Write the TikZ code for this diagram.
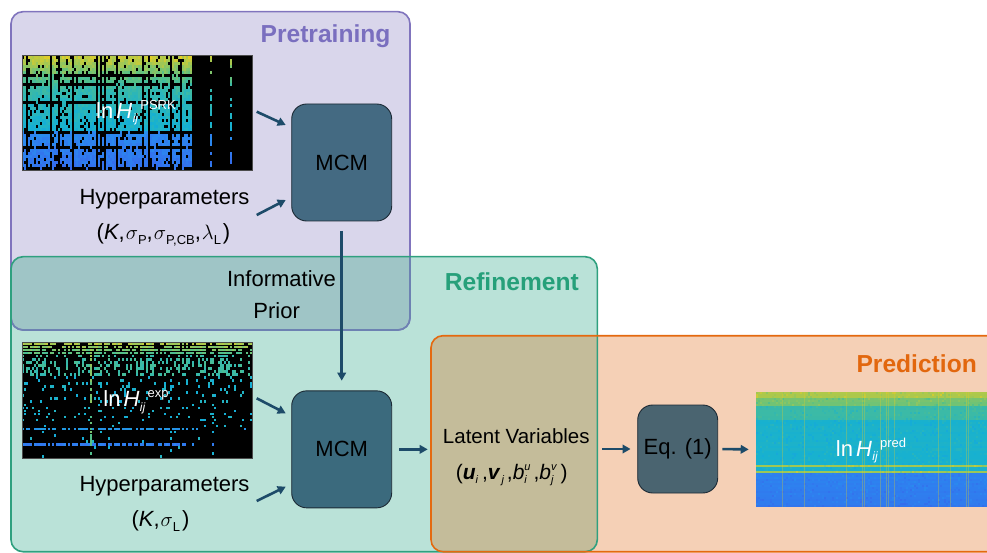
\documentclass[tikz,border=0pt]{standalone}
\usepackage{fontspec}
\setmainfont{Liberation Sans}
\usetikzlibrary{arrows.meta}
\definecolor{preFill}{HTML}{D9D6EB}
\definecolor{preLine}{HTML}{8074BD}
\definecolor{preTitle}{HTML}{7A6FBF}
\definecolor{refFill}{HTML}{BAE2D8}
\definecolor{refLine}{HTML}{2FA07F}
\definecolor{refTitle}{HTML}{26A07A}
\definecolor{preRef}{HTML}{9FC5C6}
\definecolor{preRefLine}{HTML}{6D82B2}
\definecolor{predFill}{HTML}{F5D0B6}
\definecolor{predLine}{HTML}{E4690F}
\definecolor{predTitle}{HTML}{E2670E}
\definecolor{refPred}{HTML}{C4BC9A}
\definecolor{mcmA}{HTML}{446A82}
\definecolor{mcmB}{HTML}{3B6A7D}
\definecolor{mcmC}{HTML}{4A6470}
\definecolor{boxLine}{HTML}{1C2A35}
\definecolor{arrCol}{HTML}{1D4B69}
\definecolor{pA}{HTML}{3D55E8}
\definecolor{pB}{HTML}{2C86F0}
\definecolor{pC}{HTML}{14B0D4}
\definecolor{pD}{HTML}{55C088}
\definecolor{pE}{HTML}{E6CE24}

\newcommand\hmap[1]{%
  \pgfmathsetmacro\hv{max(0,min(0.999,#1))}%
  \pgfmathtruncatemacro\hseg{floor(\hv*4)}%
  \pgfmathtruncatemacro\hpct{round((\hv*4-\hseg)*100)}%
  \ifcase\hseg\relax \colorlet{hc}{pB!\hpct!pA}\or \colorlet{hc}{pC!\hpct!pB}\or
  \colorlet{hc}{pD!\hpct!pC}\or \colorlet{hc}{pE!\hpct!pD}\fi}
\newcommand\predv[1]{\pgfmathsetmacro\pv{(#1<3) ? 0.9 : ((#1<7) ? 0.8 : ((#1<14) ? 0.64 : ((#1==36 || #1==39) ? 0.88 : ((#1<40) ? 0.52 : (0.23-0.003*(#1-40))))))}}
\newcommand\lnH[1]{ln\kern3pt\textit{H}\kern0.5pt\raisebox{-4.5pt}{\fontsize{12}{12}\selectfont\textit{ij}}\kern2pt\raisebox{9pt}{\fontsize{13}{13}\selectfont #1}}
\newcommand\sbs[1]{\raisebox{-4.5pt}{\fontsize{13}{13}\selectfont #1}}
\newcommand\sbi[1]{\raisebox{-4pt}{\fontsize{11}{11}\selectfont\itshape #1}}
\newcommand\SubSup[2]{{\fontsize{11}{11}\selectfont\itshape\sbox0{\raisebox{8.5pt}{#2}}\sbox2{\raisebox{-4pt}{#1}}\ifdim\wd0>\wd2 \rlap{\usebox2}\usebox0\else\rlap{\usebox0}\usebox2\fi}}

\tikzset{
 arr/.style={draw=arrCol, line width=2.6pt, -{Triangle[length=8pt,width=8.5pt]}},
 procbox/.style={draw=boxLine, line width=0.9pt, rounded corners=15pt, minimum width=100pt, minimum height=117pt, inner sep=0pt, font=\fontsize{22}{26}\selectfont},
 boxtitle/.style={font=\fontsize{24.6}{28}\selectfont\bfseries, inner sep=0pt, anchor=base east},
 txt/.style={font=\fontsize{22}{26}\selectfont, inner sep=0pt, anchor=base, text=black},
 hmframe/.style={draw=black!70, line width=0.6pt, inner sep=0pt},
 hmlabel/.style={font=\fontsize{22}{26}\selectfont, text=white, inner sep=0pt, anchor=base},
}

\begin{document}
\begin{tikzpicture}[x=1pt,y=-1pt]
\pgfmathsetseed{11}
\useasboundingbox (0,0) rectangle (987,553);
\fill[white] (0,0) rectangle (987,553);

% ---- group boxes
\fill[preFill, rounded corners=12pt] (11,11.7) rectangle (410,330);
\fill[refFill, rounded corners=12pt] (11,256.7) rectangle (597.3,551.7);
\begin{scope}
 \clip[rounded corners=12pt] (11,11.7) rectangle (410,330);
 \fill[preRef, rounded corners=12pt] (11,256.7) rectangle (597.3,551.7);
\end{scope}
\fill[predFill, rounded corners=12pt] (431,335.7) rectangle (1010,551.7);
\begin{scope}
 \clip[rounded corners=12pt] (11,256.7) rectangle (597.3,551.7);
 \fill[refPred, rounded corners=12pt] (431,335.7) rectangle (1010,551.7);
\end{scope}
\draw[preLine, line width=1.6pt, rounded corners=12pt] (11,11.7) rectangle (410,330);
\begin{scope}
 \clip[rounded corners=12pt] (11,256.7) rectangle (597.3,551.7);
 \draw[preRefLine, line width=1.6pt, rounded corners=12pt] (11,11.7) rectangle (410,330);
\end{scope}
\draw[refLine, line width=1.6pt, rounded corners=12pt] (11,256.7) rectangle (597.3,551.7);
\draw[predLine, line width=1.6pt, rounded corners=12pt] (431,335.7) rectangle (1010,551.7);

\node[boxtitle, text=preTitle] (tpre) at (390.7,42.6) {Pretraining};
\node[boxtitle, text=refTitle] (tref) at (579,290.6) {Refinement};
\node[boxtitle, text=predTitle] (tpred) at (977,372.3) {Prediction};

% column random tables
\foreach \c in {0,...,115}{%
  \pgfmathsetmacro\tmpA{rnd}\expandafter\xdef\csname hmcA\c\endcsname{\tmpA}%
  \pgfmathsetmacro\tmpB{rnd}\expandafter\xdef\csname hmcB\c\endcsname{\tmpB}%
}

% ---- heatmap 1 (PSRK)
\begin{scope}
\clip (22.3,55.7) rectangle (252.7,170.3);
\fill[black] (22.3,55.7) rectangle (252.7,170.3);
\foreach \r in {0,...,37}{%
  \pgfmathsetmacro\hmT{\r/37}%
  \pgfmathsetmacro\hmV{(\hmT<0.3) ? (0.95-1.1*\hmT) : ((\hmT<0.66) ? (0.62-0.3*(\hmT-0.3)) : (0.27-0.35*(\hmT-0.66)))}%
  \pgfmathsetmacro\rowP{(rnd<0.12) ? 0.2 : 1}%
  \foreach \c in {0,...,115}{%
    \edef\colH{\csname hmcA\c\endcsname}%
    \pgfmathsetmacro\colD{(\c<86) ? ((\colH<0.16) ? 0.05 : (0.72+0.28*\colH)) : ((\colH<0.12) ? 0.45 : 0)}%
    \pgfmathtruncatemacro\hmOK{(rnd<\colD*\rowP) ? 1 : 0}%
    \ifnum\hmOK=1
      \hmap{\hmV+0.1*(rnd-0.5)}%
      \fill[hc] ({22.3+2*\c},{55.7+3*\r}) rectangle ++(2,3);
    \fi
  }%
}
\end{scope}
\node[hmframe, minimum width=230.4pt, minimum height=114.6pt] (hm1) at (137.5,113) {};
\node[hmlabel] (hm1lab) at (136,118.3) {\lnH{PSRK}};

% ---- heatmap 2 (exp)
\begin{scope}
\clip (22,342.7) rectangle (252,458.3);
\fill[black] (22,342.7) rectangle (252,458.3);
\foreach \r in {0,...,37}{%
  \pgfmathsetmacro\rowD{(\r<4) ? 0.75 : ((\r<11) ? 0.38 : ((\r<26) ? 0.11 : 0.025))}%
  \pgfmathsetmacro\hmV{(\r<4) ? (0.9-0.05*\r) : ((\r<11) ? 0.66 : 0.52)}%
  \pgfmathtruncatemacro\hmSpec{(\r==28) ? 1 : ((\r==33) ? 2 : 0)}%
  \foreach \c in {0,...,115}{%
    \edef\colH{\csname hmcB\c\endcsname}%
    \pgfmathsetmacro\cellD{(\hmSpec>0) ? ((\c<88) ? ((\colH<0.2) ? 0.1 : 0.85) : 0.03) : \rowD*(0.4+1.2*\colH)}%
    \pgfmathsetmacro\cellV{(\hmSpec==1) ? 0.34 : ((\hmSpec==2) ? 0.2 : \hmV)}%
    \pgfmathsetmacro\cellD{(\c==34) ? max(\cellD,0.7) : ((\c==74 || \c==95) ? max(\cellD,0.3) : \cellD)}%
    \pgfmathsetmacro\cellV{(\c==34) ? (0.86-0.12*\r/37) : \cellV}%
    \pgfmathtruncatemacro\hmOK{(rnd<\cellD) ? 1 : 0}%
    \ifnum\hmOK=1
      \hmap{\cellV+0.1*(rnd-0.5)}%
      \fill[hc] ({22+2*\c},{342.7+3.04*\r}) rectangle ++(2,2.6);
    \fi
  }%
}
\end{scope}
\node[hmframe, minimum width=230pt, minimum height=115.6pt] (hm2) at (137,400.5) {};
\node[hmlabel] (hm2lab) at (136,406.7) {\lnH{exp}};

% ---- heatmap 3 (pred)
\begin{scope}
\clip (755.7,392.3) rectangle (987,506.7);
\foreach \r in {0,...,56}{%
  \predv{\r}%
  \hmap{\pv+0.03*(rnd-0.5)}%
  \fill[hc] (755.7,{392.3+2.007*\r}) rectangle (987,{392.3+2.007*(\r+1)});
  \foreach \k in {1,...,30}{%
    \pgfmathtruncatemacro\hmCC{floor(rnd*116)}%
    \hmap{\pv+0.12*(rnd-0.5)}%
    \fill[hc] ({755.7+2*\hmCC},{392.3+2.007*\r}) rectangle ++(2,2.007);
  }%
}
\foreach \c in {0,...,115}{%
  \edef\colH{\csname hmcA\c\endcsname}%
  \pgfmathtruncatemacro\hmOK{(\colH>0.85) ? 1 : 0}%
  \ifnum\hmOK=1 \fill[pE, opacity=0.3] ({755.7+2*\c},392.3) rectangle ++(1.2,114.4); \fi
}
\end{scope}
\node[hmframe, draw=none, minimum width=231.3pt, minimum height=114.4pt] (hm3) at (871.35,449.5) {};
\node[hmlabel] (hm3lab) at (871,456) {\lnH{pred}};

% ---- process boxes
\node[procbox, fill=mcmA] (mcm1) at (341.7,162.5) {MCM};
\node[procbox, fill=mcmB] (mcm2) at (341.7,449.35) {MCM};
\node[procbox, fill=mcmC, minimum width=80pt, minimum height=88pt] (eq) at (677.7,449) {Eq. (1)};

% ---- texts
\node[txt] (hyp1) at (164.5,205) {Hyperparameters};
\node[txt] (par1) at (163.5,240) {(\textit{K},\kern1pt$\sigma$\sbs{P},\kern1pt$\sigma$\sbs{P,CB},\kern1pt$\lambda$\sbs{L}\kern2pt)};
\node[txt] (inf) at (281.5,286) {Informative};
\node[txt] (prior) at (276.7,318) {Prior};
\node[txt] (hyp2) at (164.5,491.7) {Hyperparameters};
\node[txt] (par2) at (160.5,526.7) {(\textit{K},\kern1pt$\sigma$\sbs{L}\kern2pt)};
\node[txt, font=\fontsize{20.5}{24}\selectfont] (latent) at (516.3,443.3) {Latent Variables};
\node[txt, font=\fontsize{21}{24}\selectfont] (lpar) at (511.7,479) {(\textbf{\textit{u}}\sbi{i}\kern4pt,\textbf{\textit{v}}\sbi{\kern1pt j}\kern3pt,\textit{b}\SubSup{i}{u}\kern3pt,\textit{b}\SubSup{j}{v}\kern4pt)};

% ---- connectors
\coordinate (a1s) at (256.7,111.7); \coordinate (a1e) at (285.7,125);
\coordinate (a2s) at (256.7,215);   \coordinate (a2e) at (285.7,200);
\coordinate (a3s) at (256.7,398.3); \coordinate (a3e) at (285.7,413.3);
\coordinate (a4s) at (256.7,501);   \coordinate (a4e) at (285.7,486.7);
\coordinate (latin) at (427.7,449.35);
\coordinate (latout) at (602,449);
\draw[arr] (a1s) -- (a1e);
\draw[arr] (a2s) -- (a2e);
\draw[arr] (a3s) -- (a3e);
\draw[arr] (a4s) -- (a4e);
\draw[arr, shorten <=9.5pt, shorten >=9.7pt] (mcm1.south) -- (mcm2.north);
\draw[arr, shorten <=7.3pt] (mcm2.east) -- (latin);
\draw[arr, shorten >=6.7pt] (latout) -- (eq.west);
\draw[arr, shorten <=4.3pt, shorten >=6.7pt] (eq.east) -- (hm3.west);
\end{tikzpicture}
\end{document}
